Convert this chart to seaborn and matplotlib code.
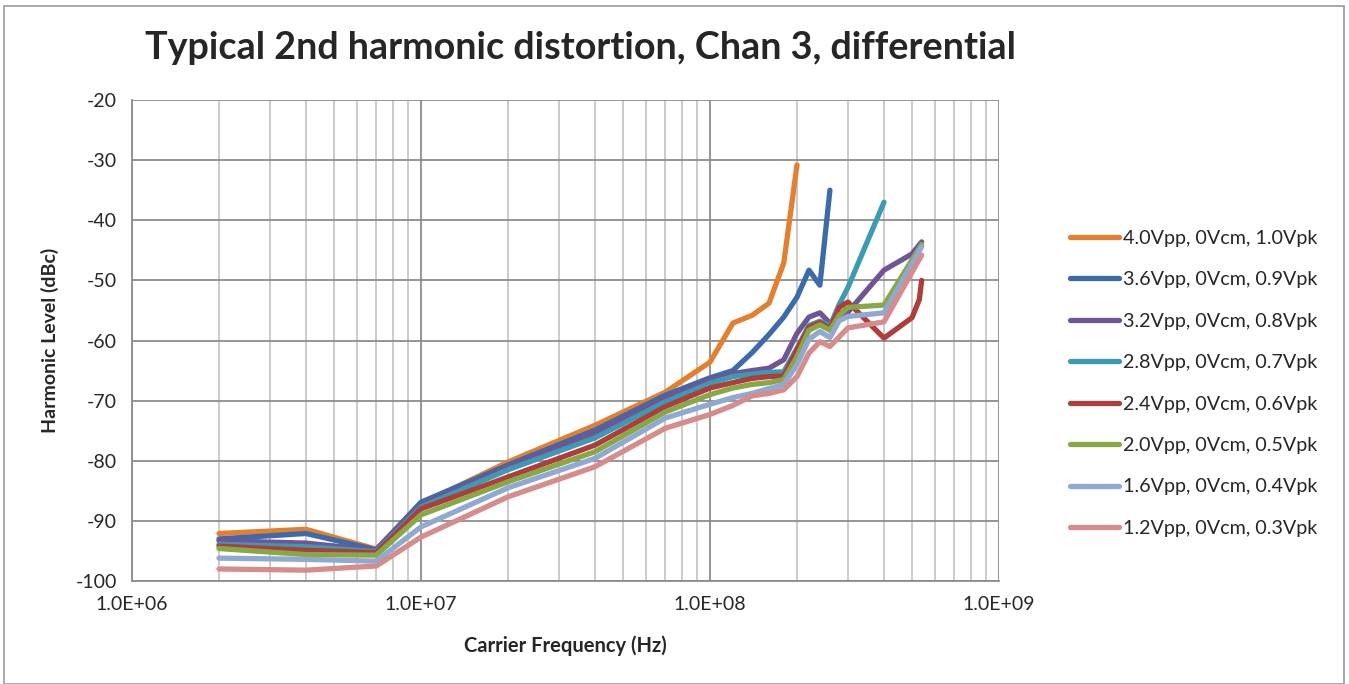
import numpy as np
import pandas as pd
import matplotlib
matplotlib.use("Agg")
import matplotlib.pyplot as plt
import matplotlib.ticker as mticker
from matplotlib.patches import Rectangle
import seaborn as sns

# Frequencies in MHz
freq_mhz = [2, 4, 7, 10, 20, 40, 70, 100, 120, 140, 160, 180, 200, 220, 240, 260, 280, 300, 400, 500, 530, 540]
nan = np.nan

s_40 = [-92.1, -91.4, -94.7, -87.2, -80.2, -74.1, -68.6, -63.6, -57.1, -55.8, -53.8, -47.1, -30.8,
        nan, nan, nan, nan, nan, nan, nan, nan, nan]
s_36 = [-93.0, -92.1, -94.8, -86.9, -80.7, -74.9, -69.1, -66.2, -65.0, -62.0, -59.0, -56.1, -52.8,
        -48.3, -50.8, -35.0, nan, nan, nan, nan, nan, nan]
s_32 = [-93.3, -93.7, -94.9, -87.4, -81.0, -75.4, -69.6, -66.6, -65.5, -65.0, -64.6, -63.2, -58.8,
        -56.1, -55.4, -57.1, -56.2, -55.3, -48.3, -45.6, nan, -43.6]
s_28 = [-93.9, -94.3, -95.1, -87.7, -81.5, -76.2, -70.2, -67.1, -66.0, -65.6, -65.3, -65.2, -61.3,
        -57.5, -56.8, -57.6, -54.0, -51.2, -37.0, nan, nan, nan]
s_24 = [-94.2, -94.9, -95.3, -88.0, -82.7, -77.4, -71.0, -67.9, -67.0, -66.3, -66.0, -65.9, -61.5,
        -57.8, -57.0, -58.0, -54.5, -53.6, -59.6, -56.2, -53.2, -50.0]
s_20 = [-94.6, -95.6, -95.7, -89.0, -83.5, -78.5, -71.9, -69.0, -67.9, -67.3, -67.0, -66.5, -62.7,
        -58.3, -57.4, -58.3, -55.8, -54.5, -54.1, nan, nan, -44.0]
s_16 = [-96.2, -96.4, -96.7, -91.0, -84.5, -79.6, -72.9, -70.6, -69.5, -68.8, -68.0, -67.3, -64.0,
        -59.8, -58.5, -59.5, -56.7, -56.0, -55.4, nan, nan, -44.4]
s_12 = [-98.0, -98.2, -97.5, -92.7, -86.0, -81.0, -74.6, -72.3, -70.8, -69.2, -68.8, -68.2, -66.0,
        -62.1, -60.2, -61.0, nan, -57.9, -56.9, nan, nan, -45.8]

labels = ["4.0Vpp, 0Vcm, 1.0Vpk", "3.6Vpp, 0Vcm, 0.9Vpk", "3.2Vpp, 0Vcm, 0.8Vpk",
          "2.8Vpp, 0Vcm, 0.7Vpk", "2.4Vpp, 0Vcm, 0.6Vpk", "2.0Vpp, 0Vcm, 0.5Vpk",
          "1.6Vpp, 0Vcm, 0.4Vpk", "1.2Vpp, 0Vcm, 0.3Vpk"]
series = [s_40, s_36, s_32, s_28, s_24, s_20, s_16, s_12]
colors = ["#E2802F", "#3D6BAA", "#6F5595", "#3C9BB3", "#AE3D3B", "#88A845", "#8FA9D2", "#D58C8A"]

xticks = [1e6, 1e7, 1e8, 1e9]
xticklabels = ["1.0E+06", "1.0E+07", "1.0E+08", "1.0E+09"]
yticks = [-100, -90, -80, -70, -60, -50, -40, -30, -20]
yticklabels = ["-100", "-90", "-80", "-70", "-60", "-50", "-40", "-30", "-20"]

rows = []
for lab, vals in zip(labels, series):
    for f, v in zip(freq_mhz, vals):
        if not np.isnan(v):
            rows.append({"Frequency": f * 1e6, "Level": v, "Series": lab})
df = pd.DataFrame(rows)

sns.set_style("white")
plt.rcParams['font.family'] = ['Lato', 'DejaVu Sans']
plt.rcParams['axes.unicode_minus'] = False

fig = plt.figure(figsize=(13.49, 6.84), dpi=100)
ax = fig.add_axes([132/1349, 1 - 581/684, (999-132)/1349, (581-100)/684])

sns.lineplot(data=df, x="Frequency", y="Level", hue="Series", hue_order=labels,
             palette=colors, linewidth=3.8, sort=True, ax=ax, legend=True,
             solid_capstyle='round', solid_joinstyle='round')

ax.set_xscale("log")
ax.set_xlim(1e6, 1e9)
ax.set_ylim(-100, -20)
ax.set_xticks(xticks)
ax.set_xticklabels(xticklabels)
ax.set_yticks(yticks)
ax.set_yticklabels(yticklabels)
ax.xaxis.set_minor_locator(mticker.LogLocator(base=10, subs=np.arange(2, 10)))
ax.xaxis.set_minor_formatter(mticker.NullFormatter())

ax.grid(True, which="major", axis="both", color="#8C8C8C", linewidth=1.3)
ax.grid(True, which="minor", axis="x", color="#BDBDBD", linewidth=1.1)
ax.set_axisbelow(True)

for sp in ["top", "right"]:
    ax.spines[sp].set_visible(False)
for sp in ["left", "bottom"]:
    ax.spines[sp].set_color("#8C8C8C")
    ax.spines[sp].set_linewidth(1.3)

ax.tick_params(axis="both", which="major", length=5, color="#8C8C8C", labelsize=14, pad=6)
ax.tick_params(axis="x", which="minor", length=0)

ax.set_xlabel("Carrier Frequency (Hz)", fontsize=14.5, fontweight="bold", labelpad=16)
ax.set_ylabel("Harmonic Level (dBc)", fontsize=14, fontweight="bold", labelpad=12)

fig.text(145/1349, 1 - 48/684, "Typical 2nd harmonic distortion, Chan 3, differential",
         fontsize=27.2, fontweight="bold", ha="left", va="center")

leg = ax.legend(loc="upper left", bbox_to_anchor=(1052/1349, 1 - 212/684),
                bbox_transform=fig.transFigure, frameon=False, fontsize=14.2,
                handlelength=2.5, handletextpad=0.2, labelspacing=1.24)
for line in leg.get_lines():
    line.set_linewidth(3.8)

fig.patches.append(Rectangle((4/1349, 0), 1340/1349, 1 - 6/684, transform=fig.transFigure,
                             fill=False, edgecolor="#9A9A9A", linewidth=1.2))

fig.savefig("out.png", dpi=100)
